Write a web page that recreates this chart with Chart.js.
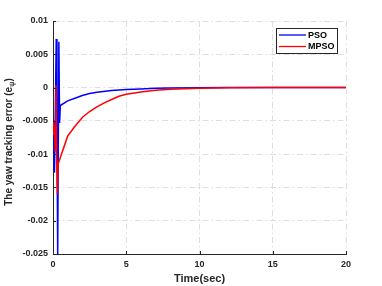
<!DOCTYPE html>
<html>
<head>
<meta charset="utf-8">
<script src="https://cdn.jsdelivr.net/npm/chart.js@4/dist/chart.umd.min.js"></script>
<style>
  html, body { margin: 0; padding: 0; background: #fff; }
  #wrap { width: 382px; height: 286px; }
</style>
</head>
<body>
<div id="wrap"><canvas id="yaw_chart" width="382" height="286"></canvas></div>
<script>
// DATA
const time_pso = [0, 0.05, 0.1, 0.15, 0.22, 0.27, 0.32, 0.4, 0.45, 0.5, 1, 1.5, 2, 2.5, 3, 4, 5, 6, 7, 8, 10, 12, 15, 20];
const err_pso = [-0.005, -0.0095, -0.0128, -0.005, 0.0073, -0.005, -0.025, 0.0069, -0.0053, -0.0027, -0.002, -0.0016, -0.0012, -0.0009, -0.0007, -0.00045, -0.0003, -0.0002, -0.00012, -0.00006, -0.00002, 0, 0, 0];

const time_mpso = [0, 0.05, 0.1, 0.15, 0.2, 0.25, 0.3, 0.35, 0.5, 1, 1.5, 2, 2.5, 3, 3.5, 4, 4.5, 5, 6, 7, 8, 10, 12, 15, 20];
const err_mpso = [-0.007, -0.005, -0.0065, -0.0095, 0.0003, -0.01, -0.016, -0.0115, -0.0105, -0.0073, -0.0058, -0.0045, -0.0036, -0.0029, -0.0023, -0.0018, -0.0013, -0.001, -0.00065, -0.0004, -0.00025, -0.0001, -0.00003, 0, 0];

const series_names = ['PSO', 'MPSO'];
const x_ticks = [0, 5, 10, 15, 20];
const y_ticks = [0.01, 0.005, 0, -0.005, -0.01, -0.015, -0.02, -0.025];
const y_tick_labels = ['0.01', '0.005', '0', '-0.005', '-0.01', '-0.015', '-0.02', '-0.025'];

const AXIS_COLOR = '#262626';
const GRID_COLOR = '#dedede';
const FONT = 'Liberation Sans, Arial, Helvetica, sans-serif';

function toPoints(xs, ys){
	return xs.map((x, i) => ({ x: x, y: ys[i] }));
}

// TITLES, INWARD TICKS AND LEGEND
const extras = {
	id: 'extras',
	afterDraw(chart){
		const c = chart.ctx;
		const area = chart.chartArea;
		const xs = chart.scales.x, ys = chart.scales.y;
		c.save();

		// inward tick marks
		c.strokeStyle = AXIS_COLOR;
		c.lineWidth = 1;
		c.beginPath();
		x_ticks.forEach(v => {
			const px = Math.round(xs.getPixelForValue(v)) + 0.5;
			c.moveTo(px, area.bottom);
			c.lineTo(px, area.bottom - 3);
		});
		y_ticks.forEach(v => {
			const py = Math.round(ys.getPixelForValue(v)) + 0.5;
			c.moveTo(area.left, py);
			c.lineTo(area.left + 3, py);
		});
		c.stroke();

		// x title
		c.fillStyle = AXIS_COLOR;
		c.font = 'bold 11px ' + FONT;
		c.textAlign = 'center';
		c.textBaseline = 'middle';
		c.fillText('Time(sec)', (area.left + area.right) / 2, 279);

		// y title with subscript psi
		c.translate(9, 142);
		c.rotate(-Math.PI / 2);
		const main = 'The yaw tracking error (e';
		c.font = 'bold 10px ' + FONT;
		const w1 = c.measureText(main).width;
		c.font = 'bold 7px ' + FONT;
		const w2 = c.measureText('\u03C8').width;
		c.font = 'bold 10px ' + FONT;
		const w3 = c.measureText(')').width;
		let start = -(w1 + w2 + w3) / 2;
		c.textAlign = 'left';
		c.fillText(main, start, 0);
		c.font = 'bold 7px ' + FONT;
		c.fillText('\u03C8', start + w1, 3);
		c.font = 'bold 10px ' + FONT;
		c.fillText(')', start + w1 + w2, 0);
		c.restore();

		// legend box
		c.save();
		c.fillStyle = '#fff';
		c.fillRect(276.5, 28.5, 61, 25);
		c.strokeStyle = AXIS_COLOR;
		c.lineWidth = 1;
		c.strokeRect(276.5, 28.5, 61, 25);
		const rows = [35, 46.5];
		chart.data.datasets.forEach((ds, i) => {
			c.strokeStyle = ds.borderColor;
			c.lineWidth = 1.3;
			c.beginPath();
			c.moveTo(279, rows[i]);
			c.lineTo(306, rows[i]);
			c.stroke();
			c.fillStyle = '#000';
			c.font = 'bold 9px ' + FONT;
			c.textAlign = 'left';
			c.textBaseline = 'middle';
			c.fillText(series_names[i], 308, rows[i] + 0.5);
		});
		c.restore();
	}
};

const ctx = document.getElementById('yaw_chart').getContext('2d');

new Chart(ctx, {
	type: 'scatter',
	data: {
		datasets: [{
			label: series_names[0],
			data: toPoints(time_pso, err_pso),
			showLine: true,
			borderColor: '#0000ff',
			backgroundColor: '#0000ff',
			borderWidth: 1.5,
			pointRadius: 0,
			tension: 0,
			order: 1
		}, {
			label: series_names[1],
			data: toPoints(time_mpso, err_mpso),
			showLine: true,
			borderColor: '#ff0000',
			backgroundColor: '#ff0000',
			borderWidth: 1.5,
			pointRadius: 0,
			tension: 0,
			order: 0
		}]
	},
	options: {
		responsive: false,
		animation: false,
		devicePixelRatio: 1,
		layout: { padding: { left: 0, right: 36, top: 21, bottom: 0 } },
		plugins: {
			legend: { display: false },
			tooltip: { enabled: false }
		},
		scales: {
			x: {
				type: 'linear',
				min: 0,
				max: 20,
				afterBuildTicks: s => { s.ticks = x_ticks.map(v => ({ value: v })); },
				afterFit: s => { s.height = 32; },
				ticks: {
					color: AXIS_COLOR,
					font: { family: FONT, size: 9, weight: 'bold' },
					padding: 5,
					maxRotation: 0,
					callback: v => String(v)
				},
				grid: {
					color: GRID_COLOR,
					drawTicks: false
				},
				border: { display: true, color: AXIS_COLOR, width: 1, dash: [6, 3, 1.5, 3] }
			},
			y: {
				type: 'linear',
				min: -0.025,
				max: 0.01,
				afterBuildTicks: s => { s.ticks = y_ticks.map(v => ({ value: v })); },
				afterFit: s => { s.width = 53; },
				ticks: {
					color: AXIS_COLOR,
					font: { family: FONT, size: 9, weight: 'bold' },
					padding: 5,
					callback: (v, i) => y_tick_labels[i]
				},
				grid: {
					color: GRID_COLOR,
					drawTicks: false
				},
				border: { display: true, color: AXIS_COLOR, width: 1, dash: [6, 3, 1.5, 3] }
			}
		}
	},
	plugins: [extras]
});
</script>
</body>
</html>
